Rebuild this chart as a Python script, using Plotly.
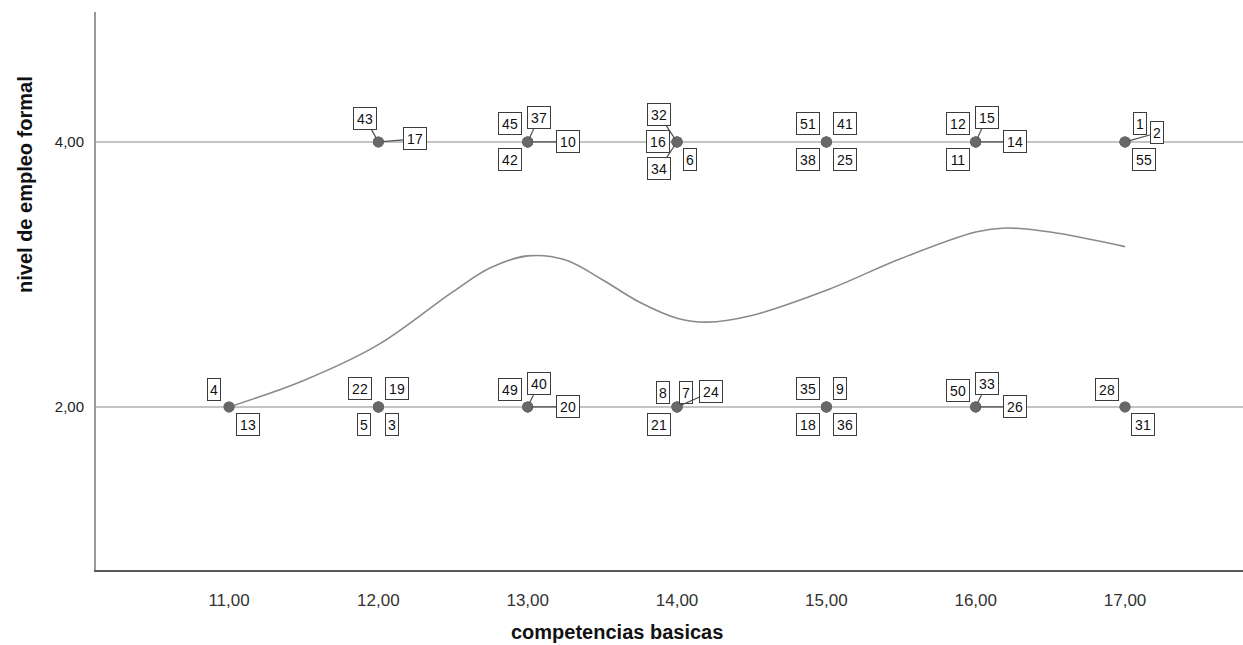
import plotly.graph_objects as go

# Cases: identifier, "competencias basicas" score, "nivel de empleo formal"
case_id = [43, 17, 45, 37, 10, 42, 32, 16, 34, 6, 51, 41, 38, 25, 12, 15, 14, 11, 1, 2, 55,
           4, 13, 22, 19, 5, 3, 49, 40, 20, 8, 7, 24, 21, 35, 9, 18, 36, 50, 33, 26, 28, 31]
competencias = [12, 12, 13, 13, 13, 13, 14, 14, 14, 14, 15, 15, 15, 15, 16, 16, 16, 16, 17, 17, 17,
                11, 11, 12, 12, 12, 12, 13, 13, 13, 14, 14, 14, 14, 15, 15, 15, 15, 16, 16, 16, 17, 17]
nivel = [4] * 21 + [2] * 22

# Smoothed fit line
fit_x = [11.0, 11.5, 12.0, 12.5, 12.75, 13.0, 13.25, 13.5, 13.75, 14.0, 14.2, 14.5,
         15.0, 15.5, 16.0, 16.2, 16.5, 17.0]
fit_y = [2.00, 2.20, 2.47, 2.87, 3.05, 3.14, 3.11, 2.96, 2.79, 2.67, 2.64, 2.69,
         2.88, 3.12, 3.32, 3.35, 3.32, 3.21]

x_ticks = [11, 12, 13, 14, 15, 16, 17]
x_ticktext = ["11,00", "12,00", "13,00", "14,00", "15,00", "16,00", "17,00"]
y_ticks = [2, 4]
y_ticktext = ["2,00", "4,00"]

# Label placement around each point: (dx, dy) in pixels, and whether a leader line is drawn
label_place = {
    43: (-13, -23, True), 17: (37, -3, True), 45: (-18, -18, False), 37: (11, -24, True),
    10: (40, 0, True), 42: (-18, 18, False), 32: (-18, -27, True), 16: (-19, 0, False),
    34: (-18, 27, True), 6: (13, 18, False), 51: (-18.5, -18, False), 41: (19, -18, False),
    38: (-18.5, 18, False), 25: (19, 18, False), 12: (-18, -18, False), 15: (11, -24, True),
    14: (39, 0, True), 11: (-18, 18, False), 1: (15, -18, False), 2: (32, -9, True),
    55: (19, 18, False),
    4: (-15, -17, False), 13: (18.5, 18, False), 22: (-18.5, -18, False), 19: (19, -18, False),
    5: (-14.5, 18, False), 3: (14, 18, False), 49: (-18, -17, False), 40: (11, -23, True),
    20: (40, 0, True), 8: (-14, -14.5, False), 7: (9, -14.5, False), 24: (34, -15, True),
    21: (-18, 18, False), 35: (-18.5, -18, False), 9: (14, -18, False), 18: (-18.5, 18, False),
    36: (19, 18, False), 50: (-18, -16.5, False), 33: (11, -23, True), 26: (39, 0, True),
    28: (-18.5, -17.5, False), 31: (18, 18, False),
}

FONT = "Arial, 'Liberation Sans', sans-serif"

fig = go.Figure()

fig.add_trace(go.Scatter(
    x=fit_x, y=fit_y, mode="lines",
    line=dict(color="#8a8a8a", width=1.6, shape="spline", smoothing=1.0),
    hoverinfo="skip", showlegend=False,
))

fig.add_trace(go.Scatter(
    x=competencias, y=nivel, mode="markers",
    marker=dict(color="#686868", size=11, line=dict(width=0)),
    text=[str(c) for c in case_id], showlegend=False,
))

annotations = []
for cid, cx, cy in zip(case_id, competencias, nivel):
    dx, dy, leader = label_place[cid]
    txt = str(cid)
    annotations.append(dict(
        x=cx, y=cy, xref="x", yref="y", text=txt,
        showarrow=True, ax=dx, ay=dy, axref="pixel", ayref="pixel",
        arrowhead=0, arrowwidth=1.2, standoff=4,
        arrowcolor="#505050" if leader else "rgba(0,0,0,0)",
        font=dict(family=FONT, size=14, color="#111111"),
        bgcolor="white", bordercolor="#3c3c3c", borderwidth=1, borderpad=1,
        width=10 * len(txt), height=19,
    ))

# Axis titles
annotations.append(dict(
    text="nivel de empleo formal", xref="paper", yref="paper",
    x=-0.0619, y=0.69, showarrow=False, textangle=-90,
    xanchor="center", yanchor="middle",
    font=dict(family=FONT, size=20, color="#111111", weight="bold"),
))
annotations.append(dict(
    text="competencias basicas", xref="paper", yref="paper",
    x=0.5, y=0, showarrow=False, xanchor="center", yanchor="middle",
    yshift=-62, xshift=-53,
    font=dict(family=FONT, size=20, color="#111111", weight="bold"),
))

fig.update_layout(
    width=1243, height=645,
    margin=dict(l=96, r=0, t=12, b=75),
    paper_bgcolor="white", plot_bgcolor="white",
    font=dict(family=FONT),
    annotations=annotations,
    xaxis=dict(
        range=[10.109, 17.79], tickvals=x_ticks, ticktext=x_ticktext,
        showgrid=False, zeroline=False, ticks="", ticklabelstandoff=14,
        showline=True, linecolor="#5a5a5a", linewidth=2,
        tickfont=dict(family=FONT, size=17, color="#333333"),
    ),
    yaxis=dict(
        range=[0.77, 4.98], tickvals=y_ticks, ticktext=y_ticktext,
        showgrid=True, gridcolor="#c4c4c4", gridwidth=2,
        zeroline=False, ticks="", ticklabelstandoff=7,
        showline=True, linecolor="#9a9a9a", linewidth=2,
        tickfont=dict(family=FONT, size=15, color="#222222"),
    ),
)

fig.write_html("out.html")
